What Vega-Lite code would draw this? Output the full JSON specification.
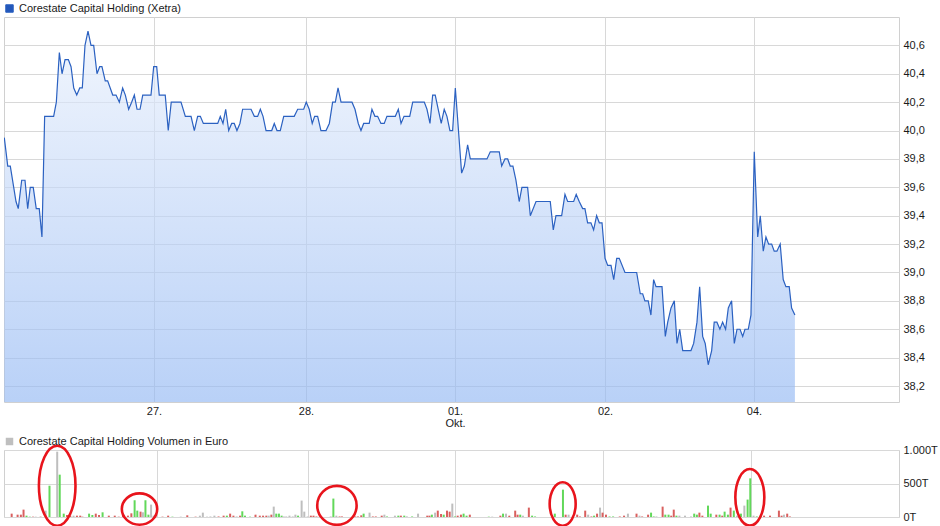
{
  "$schema": "https://vega.github.io/schema/vega-lite/v6.json",
  "background": "white",
  "padding": {"left": 3, "top": 2, "right": 0, "bottom": 0},
  "bounds": "flush",
  "spacing": 48,
  "resolve": {"scale": {"color": "independent", "fill": "independent", "shape": "independent"}, "legend": {"color": "independent"}},
  "config": {
    "font": "Liberation Sans",
    "view": {"stroke": "#d0d0d0", "strokeWidth": 1},
    "axis": {"labelFont": "Liberation Sans", "labelFontSize": 11, "labelColor": "#1a1a1a", "gridColor": "#d8d8d8", "gridWidth": 1, "domain": false, "ticks": false, "title": null},
    "legend": {"labelFont": "Liberation Sans", "labelFontSize": 11, "labelColor": "#1a1a1a", "padding": 0, "labelLimit": 500}
  },
  "datasets": {
    "price": [
      {"t":0.002,"kurs":39.95},{"t":0.025,"kurs":39.75},{"t":0.042,"kurs":39.75},{"t":0.08,"kurs":39.5},{"t":0.095,"kurs":39.45},{"t":0.118,"kurs":39.65},{"t":0.14,"kurs":39.65},{"t":0.158,"kurs":39.45},{"t":0.175,"kurs":39.6},{"t":0.195,"kurs":39.6},{"t":0.215,"kurs":39.45},{"t":0.235,"kurs":39.45},{"t":0.253,"kurs":39.25},{"t":0.271,"kurs":40.1},{"t":0.331,"kurs":40.1},{"t":0.349,"kurs":40.2},{"t":0.369,"kurs":40.55},{"t":0.387,"kurs":40.4},{"t":0.407,"kurs":40.5},{"t":0.429,"kurs":40.5},{"t":0.447,"kurs":40.45},{"t":0.465,"kurs":40.3},{"t":0.485,"kurs":40.25},{"t":0.505,"kurs":40.3},{"t":0.522,"kurs":40.3},{"t":0.54,"kurs":40.6},{"t":0.56,"kurs":40.7},{"t":0.58,"kurs":40.6},{"t":0.598,"kurs":40.6},{"t":0.62,"kurs":40.4},{"t":0.638,"kurs":40.45},{"t":0.653,"kurs":40.45},{"t":0.675,"kurs":40.35},{"t":0.691,"kurs":40.35},{"t":0.725,"kurs":40.25},{"t":0.747,"kurs":40.25},{"t":0.769,"kurs":40.2},{"t":0.791,"kurs":40.3},{"t":0.809,"kurs":40.25},{"t":0.831,"kurs":40.15},{"t":0.851,"kurs":40.2},{"t":0.869,"kurs":40.25},{"t":0.887,"kurs":40.15},{"t":0.907,"kurs":40.15},{"t":0.925,"kurs":40.25},{"t":0.98,"kurs":40.25},{"t":0.998,"kurs":40.45},{"t":1.018,"kurs":40.45},{"t":1.035,"kurs":40.25},{"t":1.075,"kurs":40.25},{"t":1.095,"kurs":40.0},{"t":1.115,"kurs":40.2},{"t":1.18,"kurs":40.2},{"t":1.209,"kurs":40.1},{"t":1.247,"kurs":40.1},{"t":1.269,"kurs":40.0},{"t":1.291,"kurs":40.1},{"t":1.309,"kurs":40.1},{"t":1.329,"kurs":40.05},{"t":1.425,"kurs":40.05},{"t":1.442,"kurs":40.1},{"t":1.46,"kurs":40.05},{"t":1.478,"kurs":40.15},{"t":1.498,"kurs":40.0},{"t":1.518,"kurs":40.05},{"t":1.535,"kurs":40.05},{"t":1.553,"kurs":40.0},{"t":1.573,"kurs":40.05},{"t":1.591,"kurs":40.15},{"t":1.647,"kurs":40.15},{"t":1.669,"kurs":40.1},{"t":1.691,"kurs":40.1},{"t":1.709,"kurs":40.15},{"t":1.727,"kurs":40.1},{"t":1.747,"kurs":40.0},{"t":1.785,"kurs":40.0},{"t":1.802,"kurs":40.05},{"t":1.82,"kurs":40.0},{"t":1.842,"kurs":40.0},{"t":1.865,"kurs":40.1},{"t":1.935,"kurs":40.1},{"t":1.958,"kurs":40.15},{"t":1.998,"kurs":40.15},{"t":2.015,"kurs":40.2},{"t":2.035,"kurs":40.15},{"t":2.055,"kurs":40.05},{"t":2.071,"kurs":40.1},{"t":2.091,"kurs":40.1},{"t":2.113,"kurs":40.0},{"t":2.147,"kurs":40.0},{"t":2.169,"kurs":40.05},{"t":2.191,"kurs":40.2},{"t":2.209,"kurs":40.2},{"t":2.227,"kurs":40.3},{"t":2.247,"kurs":40.2},{"t":2.32,"kurs":40.2},{"t":2.34,"kurs":40.15},{"t":2.362,"kurs":40.05},{"t":2.38,"kurs":40.0},{"t":2.398,"kurs":40.05},{"t":2.435,"kurs":40.05},{"t":2.453,"kurs":40.15},{"t":2.473,"kurs":40.1},{"t":2.491,"kurs":40.1},{"t":2.513,"kurs":40.05},{"t":2.535,"kurs":40.05},{"t":2.553,"kurs":40.1},{"t":2.609,"kurs":40.1},{"t":2.629,"kurs":40.15},{"t":2.647,"kurs":40.05},{"t":2.667,"kurs":40.1},{"t":2.705,"kurs":40.1},{"t":2.725,"kurs":40.2},{"t":2.802,"kurs":40.2},{"t":2.82,"kurs":40.15},{"t":2.84,"kurs":40.05},{"t":2.858,"kurs":40.25},{"t":2.875,"kurs":40.25},{"t":2.895,"kurs":40.15},{"t":2.915,"kurs":40.05},{"t":2.935,"kurs":40.15},{"t":2.953,"kurs":40.1},{"t":2.973,"kurs":40.0},{"t":2.991,"kurs":40.0},{"t":3.009,"kurs":40.3},{"t":3.051,"kurs":39.7},{"t":3.069,"kurs":39.75},{"t":3.091,"kurs":39.9},{"t":3.109,"kurs":39.8},{"t":3.22,"kurs":39.8},{"t":3.242,"kurs":39.85},{"t":3.302,"kurs":39.85},{"t":3.318,"kurs":39.75},{"t":3.34,"kurs":39.8},{"t":3.358,"kurs":39.8},{"t":3.375,"kurs":39.75},{"t":3.393,"kurs":39.75},{"t":3.413,"kurs":39.65},{"t":3.435,"kurs":39.5},{"t":3.453,"kurs":39.6},{"t":3.491,"kurs":39.6},{"t":3.509,"kurs":39.4},{"t":3.547,"kurs":39.5},{"t":3.642,"kurs":39.5},{"t":3.662,"kurs":39.3},{"t":3.68,"kurs":39.4},{"t":3.718,"kurs":39.4},{"t":3.74,"kurs":39.55},{"t":3.758,"kurs":39.5},{"t":3.798,"kurs":39.5},{"t":3.815,"kurs":39.55},{"t":3.835,"kurs":39.5},{"t":3.858,"kurs":39.45},{"t":3.873,"kurs":39.45},{"t":3.891,"kurs":39.35},{"t":3.913,"kurs":39.35},{"t":3.931,"kurs":39.3},{"t":3.951,"kurs":39.4},{"t":3.969,"kurs":39.35},{"t":3.987,"kurs":39.35},{"t":4.007,"kurs":39.1},{"t":4.025,"kurs":39.05},{"t":4.047,"kurs":39.05},{"t":4.065,"kurs":38.95},{"t":4.085,"kurs":39.1},{"t":4.102,"kurs":39.1},{"t":4.14,"kurs":39.0},{"t":4.218,"kurs":39.0},{"t":4.242,"kurs":38.85},{"t":4.258,"kurs":38.85},{"t":4.273,"kurs":38.8},{"t":4.295,"kurs":38.8},{"t":4.313,"kurs":38.7},{"t":4.331,"kurs":38.95},{"t":4.347,"kurs":38.9},{"t":4.387,"kurs":38.9},{"t":4.409,"kurs":38.55},{"t":4.425,"kurs":38.65},{"t":4.447,"kurs":38.75},{"t":4.469,"kurs":38.8},{"t":4.487,"kurs":38.5},{"t":4.505,"kurs":38.6},{"t":4.525,"kurs":38.45},{"t":4.58,"kurs":38.45},{"t":4.598,"kurs":38.5},{"t":4.62,"kurs":38.65},{"t":4.638,"kurs":38.9},{"t":4.658,"kurs":38.55},{"t":4.675,"kurs":38.5},{"t":4.695,"kurs":38.35},{"t":4.718,"kurs":38.45},{"t":4.735,"kurs":38.65},{"t":4.753,"kurs":38.65},{"t":4.773,"kurs":38.6},{"t":4.791,"kurs":38.65},{"t":4.811,"kurs":38.6},{"t":4.829,"kurs":38.75},{"t":4.851,"kurs":38.8},{"t":4.869,"kurs":38.5},{"t":4.887,"kurs":38.6},{"t":4.907,"kurs":38.6},{"t":4.925,"kurs":38.55},{"t":4.94,"kurs":38.6},{"t":4.962,"kurs":38.6},{"t":4.98,"kurs":38.7},{"t":5.002,"kurs":39.85},{"t":5.025,"kurs":39.25},{"t":5.042,"kurs":39.4},{"t":5.062,"kurs":39.15},{"t":5.08,"kurs":39.25},{"t":5.098,"kurs":39.2},{"t":5.118,"kurs":39.2},{"t":5.135,"kurs":39.15},{"t":5.153,"kurs":39.15},{"t":5.175,"kurs":39.2},{"t":5.195,"kurs":38.95},{"t":5.213,"kurs":38.9},{"t":5.235,"kurs":38.9},{"t":5.251,"kurs":38.75},{"t":5.273,"kurs":38.7}
    ],
    "vol": [
      {"t":0.018,"vol":50,"dir":"d"},{"t":0.058,"vol":35,"dir":"d"},{"t":0.08,"vol":35,"dir":"d"},{"t":0.098,"vol":110,"dir":"d"},{"t":0.118,"vol":20,"dir":"u"},{"t":0.14,"vol":5,"dir":"u"},{"t":0.162,"vol":5,"dir":"d"},{"t":0.18,"vol":5,"dir":"n"},{"t":0.213,"vol":5,"dir":"d"},{"t":0.247,"vol":95,"dir":"n"},{"t":0.273,"vol":467,"dir":"u"},{"t":0.325,"vol":975,"dir":"n"},{"t":0.342,"vol":632,"dir":"u"},{"t":0.369,"vol":50,"dir":"u"},{"t":0.391,"vol":30,"dir":"d"},{"t":0.413,"vol":20,"dir":"d"},{"t":0.435,"vol":20,"dir":"n"},{"t":0.458,"vol":20,"dir":"d"},{"t":0.48,"vol":20,"dir":"d"},{"t":0.495,"vol":5,"dir":"d"},{"t":0.54,"vol":50,"dir":"u"},{"t":0.562,"vol":30,"dir":"u"},{"t":0.585,"vol":50,"dir":"d"},{"t":0.607,"vol":30,"dir":"d"},{"t":0.631,"vol":70,"dir":"u"},{"t":0.673,"vol":20,"dir":"d"},{"t":0.713,"vol":20,"dir":"d"},{"t":0.74,"vol":5,"dir":"d"},{"t":0.769,"vol":45,"dir":"d"},{"t":0.802,"vol":20,"dir":"d"},{"t":0.825,"vol":55,"dir":"d"},{"t":0.847,"vol":250,"dir":"u"},{"t":0.865,"vol":95,"dir":"u"},{"t":0.887,"vol":80,"dir":"d"},{"t":0.903,"vol":70,"dir":"n"},{"t":0.92,"vol":250,"dir":"u"},{"t":0.94,"vol":35,"dir":"u"},{"t":0.958,"vol":185,"dir":"n"},{"t":0.975,"vol":20,"dir":"n"},{"t":1.035,"vol":5,"dir":"d"},{"t":1.073,"vol":20,"dir":"d"},{"t":1.102,"vol":5,"dir":"u"},{"t":1.158,"vol":5,"dir":"n"},{"t":1.202,"vol":25,"dir":"d"},{"t":1.258,"vol":5,"dir":"d"},{"t":1.287,"vol":20,"dir":"n"},{"t":1.307,"vol":65,"dir":"n"},{"t":1.335,"vol":5,"dir":"n"},{"t":1.358,"vol":8,"dir":"n"},{"t":1.385,"vol":20,"dir":"n"},{"t":1.413,"vol":8,"dir":"d"},{"t":1.447,"vol":20,"dir":"d"},{"t":1.469,"vol":20,"dir":"u"},{"t":1.491,"vol":50,"dir":"d"},{"t":1.513,"vol":20,"dir":"d"},{"t":1.535,"vol":8,"dir":"n"},{"t":1.558,"vol":20,"dir":"d"},{"t":1.573,"vol":85,"dir":"u"},{"t":1.591,"vol":20,"dir":"u"},{"t":1.625,"vol":5,"dir":"u"},{"t":1.662,"vol":35,"dir":"d"},{"t":1.691,"vol":20,"dir":"d"},{"t":1.713,"vol":20,"dir":"d"},{"t":1.735,"vol":20,"dir":"d"},{"t":1.751,"vol":20,"dir":"n"},{"t":1.769,"vol":35,"dir":"d"},{"t":1.785,"vol":155,"dir":"n"},{"t":1.802,"vol":50,"dir":"u"},{"t":1.82,"vol":50,"dir":"u"},{"t":1.838,"vol":20,"dir":"u"},{"t":1.853,"vol":8,"dir":"n"},{"t":1.869,"vol":8,"dir":"n"},{"t":1.891,"vol":20,"dir":"n"},{"t":1.913,"vol":8,"dir":"n"},{"t":1.931,"vol":35,"dir":"n"},{"t":1.949,"vol":20,"dir":"u"},{"t":1.973,"vol":245,"dir":"n"},{"t":1.991,"vol":80,"dir":"n"},{"t":2.013,"vol":8,"dir":"n"},{"t":2.035,"vol":20,"dir":"d"},{"t":2.053,"vol":20,"dir":"d"},{"t":2.073,"vol":8,"dir":"d"},{"t":2.095,"vol":5,"dir":"d"},{"t":2.169,"vol":8,"dir":"n"},{"t":2.187,"vol":275,"dir":"u"},{"t":2.207,"vol":20,"dir":"n"},{"t":2.229,"vol":8,"dir":"d"},{"t":2.245,"vol":8,"dir":"d"},{"t":2.335,"vol":8,"dir":"d"},{"t":2.353,"vol":8,"dir":"d"},{"t":2.375,"vol":25,"dir":"d"},{"t":2.391,"vol":50,"dir":"u"},{"t":2.431,"vol":65,"dir":"n"},{"t":2.453,"vol":8,"dir":"d"},{"t":2.473,"vol":8,"dir":"d"},{"t":2.513,"vol":20,"dir":"d"},{"t":2.531,"vol":35,"dir":"n"},{"t":2.549,"vol":8,"dir":"u"},{"t":2.602,"vol":20,"dir":"n"},{"t":2.625,"vol":20,"dir":"u"},{"t":2.642,"vol":20,"dir":"d"},{"t":2.665,"vol":20,"dir":"u"},{"t":2.682,"vol":10,"dir":"n"},{"t":2.718,"vol":8,"dir":"u"},{"t":2.758,"vol":50,"dir":"n"},{"t":2.82,"vol":20,"dir":"d"},{"t":2.835,"vol":20,"dir":"d"},{"t":2.851,"vol":35,"dir":"u"},{"t":2.873,"vol":65,"dir":"n"},{"t":2.891,"vol":95,"dir":"d"},{"t":2.913,"vol":45,"dir":"d"},{"t":2.931,"vol":35,"dir":"u"},{"t":2.953,"vol":95,"dir":"d"},{"t":2.971,"vol":80,"dir":"d"},{"t":2.989,"vol":200,"dir":"n"},{"t":3.007,"vol":8,"dir":"u"},{"t":3.025,"vol":20,"dir":"d"},{"t":3.047,"vol":35,"dir":"d"},{"t":3.065,"vol":50,"dir":"u"},{"t":3.085,"vol":20,"dir":"u"},{"t":3.107,"vol":35,"dir":"d"},{"t":3.235,"vol":5,"dir":"u"},{"t":3.258,"vol":5,"dir":"n"},{"t":3.313,"vol":20,"dir":"d"},{"t":3.331,"vol":50,"dir":"u"},{"t":3.351,"vol":50,"dir":"n"},{"t":3.373,"vol":20,"dir":"d"},{"t":3.413,"vol":95,"dir":"d"},{"t":3.429,"vol":35,"dir":"d"},{"t":3.447,"vol":35,"dir":"u"},{"t":3.465,"vol":20,"dir":"n"},{"t":3.505,"vol":140,"dir":"d"},{"t":3.527,"vol":20,"dir":"u"},{"t":3.547,"vol":8,"dir":"u"},{"t":3.68,"vol":50,"dir":"u"},{"t":3.735,"vol":408,"dir":"u"},{"t":3.753,"vol":35,"dir":"d"},{"t":3.773,"vol":35,"dir":"n"},{"t":3.831,"vol":35,"dir":"d"},{"t":3.849,"vol":8,"dir":"d"},{"t":3.885,"vol":95,"dir":"d"},{"t":3.905,"vol":35,"dir":"n"},{"t":3.927,"vol":8,"dir":"d"},{"t":3.945,"vol":20,"dir":"u"},{"t":3.965,"vol":50,"dir":"d"},{"t":3.985,"vol":140,"dir":"n"},{"t":4.002,"vol":65,"dir":"d"},{"t":4.025,"vol":35,"dir":"d"},{"t":4.049,"vol":8,"dir":"u"},{"t":4.073,"vol":8,"dir":"u"},{"t":4.118,"vol":8,"dir":"d"},{"t":4.147,"vol":20,"dir":"d"},{"t":4.173,"vol":50,"dir":"n"},{"t":4.231,"vol":50,"dir":"d"},{"t":4.251,"vol":20,"dir":"n"},{"t":4.269,"vol":8,"dir":"d"},{"t":4.309,"vol":35,"dir":"d"},{"t":4.329,"vol":65,"dir":"u"},{"t":4.347,"vol":8,"dir":"u"},{"t":4.365,"vol":8,"dir":"n"},{"t":4.407,"vol":155,"dir":"d"},{"t":4.425,"vol":35,"dir":"u"},{"t":4.447,"vol":35,"dir":"u"},{"t":4.465,"vol":20,"dir":"d"},{"t":4.482,"vol":110,"dir":"d"},{"t":4.5,"vol":20,"dir":"u"},{"t":4.52,"vol":20,"dir":"n"},{"t":4.558,"vol":20,"dir":"n"},{"t":4.598,"vol":8,"dir":"n"},{"t":4.62,"vol":50,"dir":"u"},{"t":4.638,"vol":35,"dir":"u"},{"t":4.655,"vol":65,"dir":"d"},{"t":4.675,"vol":20,"dir":"d"},{"t":4.713,"vol":170,"dir":"u"},{"t":4.731,"vol":50,"dir":"u"},{"t":4.769,"vol":35,"dir":"d"},{"t":4.791,"vol":35,"dir":"u"},{"t":4.809,"vol":20,"dir":"d"},{"t":4.825,"vol":80,"dir":"u"},{"t":4.847,"vol":35,"dir":"u"},{"t":4.865,"vol":140,"dir":"d"},{"t":4.887,"vol":95,"dir":"u"},{"t":4.909,"vol":20,"dir":"n"},{"t":4.935,"vol":50,"dir":"u"},{"t":4.958,"vol":170,"dir":"n"},{"t":4.98,"vol":260,"dir":"u"},{"t":4.998,"vol":577,"dir":"u"},{"t":5.02,"vol":20,"dir":"n"},{"t":5.042,"vol":8,"dir":"u"},{"t":5.069,"vol":20,"dir":"u"},{"t":5.091,"vol":20,"dir":"d"},{"t":5.131,"vol":20,"dir":"d"},{"t":5.191,"vol":95,"dir":"d"},{"t":5.209,"vol":20,"dir":"d"},{"t":5.225,"vol":35,"dir":"n"},{"t":5.247,"vol":50,"dir":"d"},{"t":5.265,"vol":8,"dir":"d"}
    ],
    "ellipsen": [
      {"t":0.325,"vol":467,"id":"e1"},{"t":0.88,"vol":119,"id":"e2"},{"t":2.211,"vol":173,"id":"e3"},{"t":3.733,"vol":194,"id":"e4"},{"t":4.995,"vol":293,"id":"e5"}
    ]
  },
  "vconcat": [
    {
      "width": 895,
      "height": 385,
      "data": {"name": "price"},
      "encoding": {
        "x": {"field": "t", "type": "quantitative", "scale": {"domain": [0, 5.967], "nice": false, "zero": false},
          "axis": {"values": [1, 2.013, 3.007, 4.007, 5], "grid": true, "labelPadding": 3, "labelLineHeight": 12,
            "labelExpr": "round(datum.value) == 1 ? '27.' : round(datum.value) == 2 ? '28.' : round(datum.value) == 3 ? ['01.', 'Okt.'] : round(datum.value) == 4 ? '02.' : '04.'"}},
        "y": {"field": "kurs", "type": "quantitative", "scale": {"domain": [38.0875, 40.8], "nice": false, "zero": false},
          "axis": {"orient": "right", "values": [38.2, 38.4, 38.6, 38.8, 39.0, 39.2, 39.4, 39.6, 39.8, 40.0, 40.2, 40.4, 40.6], "grid": true, "labelPadding": 4,
            "labelExpr": "replace(format(datum.value, '.1f'), '.', ',')"}}
      },
      "layer": [
        {
          "mark": {"type": "area", "clip": true, "fillOpacity": 0.65,
            "color": {"gradient": "linear", "x1": 0, "y1": 0, "x2": 0, "y2": 1,
              "stops": [{"offset": 0, "color": "#e9f0fc"}, {"offset": 1, "color": "#93b8f3"}]}},
          "encoding": {"y2": {"datum": 38.0875}}
        },
        {
          "mark": {"type": "line", "strokeWidth": 1.2, "clip": true},
          "encoding": {
            "color": {"datum": "Corestate Capital Holding (Xetra)", "type": "nominal", "scale": {"range": ["#2b61c1"]},
              "legend": {"orient": "none", "legendX": 0, "legendY": -14, "title": null, "symbolType": "square", "symbolSize": 56, "labelOffset": 4, "labelLimit": 500,
                "encode": {"symbols": {"update": {"fill": {"value": "#2257ba"}, "stroke": {"value": "#14275a"}, "strokeWidth": {"value": 1}, "shape": {"value": "square"}, "size": {"value": 56}, "opacity": {"value": 1}}}}}}
          }
        }
      ]
    },
    {
      "width": 895,
      "height": 67,
      "encoding": {
        "x": {"field": "t", "type": "quantitative", "scale": {"domain": [0, 5.967], "nice": false, "zero": false},
          "axis": {"values": [1, 2.013, 3.007, 4.007, 5], "grid": true, "labels": false}},
        "y": {"field": "vol", "type": "quantitative", "scale": {"domain": [0, 1000], "nice": false},
          "axis": {"orient": "right", "values": [0, 500, 1000], "grid": true, "labelPadding": 4,
            "labelExpr": "datum.value == 1000 ? '1.000T' : datum.value + 'T'"}}
      },
      "layer": [
        {
          "data": {"name": "vol"},
          "mark": {"type": "bar", "size": 2},
          "encoding": {
            "fill": {"field": "dir", "type": "nominal", "scale": {"domain": ["u", "d", "n"], "range": ["#62d85a", "#d9605f", "#bebebe"]}, "legend": null}
          }
        },
        {
          "data": {"name": "ellipsen"},
          "mark": {"type": "point", "filled": false, "stroke": "#e8141c", "opacity": 1, "strokeWidth": 2.6, "size": 4, "clip": false},
          "encoding": {
            "shape": {"field": "id", "type": "nominal", "legend": null,
              "scale": {"domain": ["e1", "e2", "e3", "e4", "e5"],
                "range": [
                  "M-18.3,0A18.3,40 0 1,0 18.3,0A18.3,40 0 1,0 -18.3,0Z",
                  "M-17.7,0A17.7,15.7 0 1,0 17.7,0A17.7,15.7 0 1,0 -17.7,0Z",
                  "M-19.7,0A19.7,19.5 0 1,0 19.7,0A19.7,19.5 0 1,0 -19.7,0Z",
                  "M-13,0A13,21.7 0 1,0 13,0A13,21.7 0 1,0 -13,0Z",
                  "M-14.5,0A14.5,28.3 0 1,0 14.5,0A14.5,28.3 0 1,0 -14.5,0Z"
                ]}}
          }
        },
        {
          "data": {"name": "ellipsen"},
          "mark": {"type": "square", "size": 0, "opacity": 1},
          "encoding": {
            "color": {"datum": "Corestate Capital Holding Volumen in Euro", "type": "nominal", "scale": {"range": ["#bfbfbf"]},
              "legend": {"orient": "none", "legendX": 0, "legendY": -14, "title": null, "symbolType": "square", "symbolSize": 56, "labelOffset": 4, "labelLimit": 500,
                "encode": {"symbols": {"update": {"fill": {"value": "#bfbfbf"}, "stroke": {"value": "#333333"}, "strokeWidth": {"value": 1}, "shape": {"value": "square"}, "size": {"value": 56}, "opacity": {"value": 1}}}}}}
          }
        }
      ]
    }
  ]
}
